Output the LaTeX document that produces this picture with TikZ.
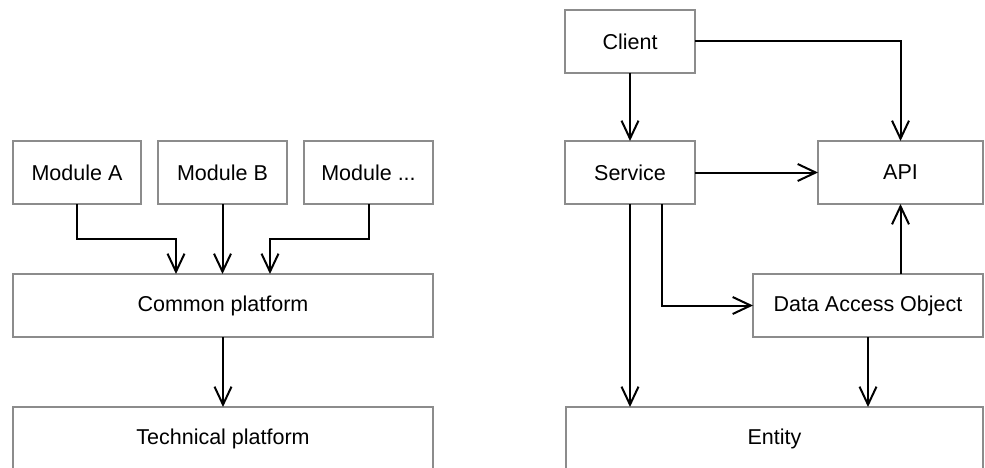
\documentclass[tikz,border=0pt]{standalone}
\usepackage{fontspec}
\setmainfont{Liberation Sans}
\usepackage{xcolor}
\usepackage{tikz}
\usetikzlibrary{arrows.meta,positioning}
\definecolor{boxgray}{RGB}{140,140,140}
\tikzset{blk/.style={rectangle,draw=boxgray,line width=1.5pt,minimum height=63pt,inner sep=0pt,outer sep=0pt,font=\fontsize{21.5}{25}\selectfont},
         lnk/.style={->,line width=2pt}}

\begin{document}
\begin{tikzpicture}[x=1pt,y=-1pt,>={Straight Barb[length=18pt,width=17pt]}]
    \useasboundingbox (0,0) rectangle (985,468);
    \clip (0,0) rectangle (985,468);

    \node[blk,minimum width=128pt] (moda) at (77,172.5) {Module A};
    \node[blk,minimum width=129pt] (modb) at (222.5,172.5) {Module B};
    \node[blk,minimum width=129pt] (modx) at (368.5,172.5) {Module ...};
    \node[blk,minimum width=420pt] (common) at (223,305.5) {Common platform};
    \node[blk,minimum width=420pt] (tech) at (223,438.5) {Technical platform};

    \node[blk,minimum width=130pt] (client) at (630,41.5) {Client};
    \node[blk,minimum width=130pt] (service) at (630,172.5) {Service};
    \node[blk,minimum width=165pt] (api) at (900.5,172.5) {API};
    \node[blk,minimum width=230pt] (dao) at (868,305.5) {Data Access Object};
    \node[blk,minimum width=417pt] (entity) at (774.5,438.5) {Entity};

    \draw [lnk] (moda.south) -- ++(0,35) -| ([xshift=-47pt]common.north);
    \draw [lnk] (modb.south) -- (modb.south |- common.north);
    \draw [lnk] (modx.south) -- ++(0,35) -| ([xshift=47pt]common.north);
    \draw [lnk] (common) -- (tech);

    \draw [lnk] (client) -- (service);
    \draw [lnk] (client.east) -| (api.north);
    \draw [lnk] (service) -- (api);
    \draw [lnk] (service.south) -- (service.south |- entity.north);
    \draw [lnk] ([xshift=32pt]service.south) |- (dao.west);
    \draw [lnk] (dao.north -| api.south) -- (api.south);
    \draw [lnk] (dao.south) -- (dao.south |- entity.north);
\end{tikzpicture}
\end{document}
